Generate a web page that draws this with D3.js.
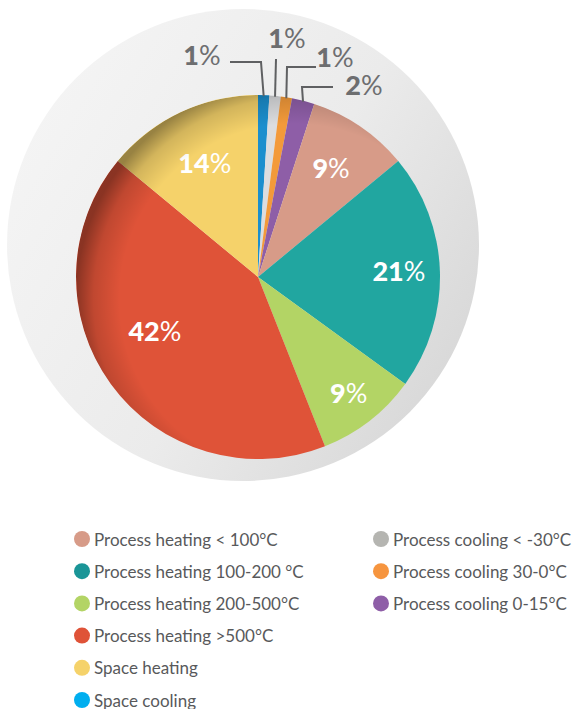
<!DOCTYPE html>
<html>
<head>
<meta charset="utf-8">
<script src="https://cdn.jsdelivr.net/npm/d3@7"></script>
<style>
  body { margin: 0; background: #fff; }
  svg { display: block; }
</style>
</head>
<body>
<div id="chart"></div>
<script>
// data
const categories = ["Space cooling", "Process cooling < -30°C", "Process cooling 30-0°C", "Process cooling 0-15°C",
    "Process heating < 100°C", "Process heating 100-200 °C", "Process heating 200-500°C", "Process heating >500°C", "Space heating"];
const shares = [1, 1, 1, 2, 9, 21, 9, 42, 14];
const sliceColors = ["#1b8fce", "#dcdddf", "#f39a3a", "#8e5ea7", "#d79b88", "#21a6a0", "#b3d465", "#df5338", "#f5d26a"];

// legend (two columns, in the order shown)
const legendLeft = ["Process heating < 100°C", "Process heating 100-200 °C", "Process heating 200-500°C", "Process heating >500°C", "Space heating", "Space cooling"];
const legendLeftColors = ["#d79b88", "#1a9597", "#b3d465", "#df5338", "#f5d26a", "#00aeef"];
const legendRight = ["Process cooling < -30°C", "Process cooling 30-0°C", "Process cooling 0-15°C"];
const legendRightColors = ["#b5b5b1", "#f6953f", "#8e5ea7"];

const width = 573, height = 709;
const cx = 258, cy = 277, radius = 182;

const svg = d3.select("#chart").append("svg")
    .attr("width", width)
    .attr("height", height);

const defs = svg.append("defs");

// backdrop disc gradient
const bg = defs.append("linearGradient").attr("id", "bgGrad")
    .attr("x1", "0%").attr("y1", "20%").attr("x2", "100%").attr("y2", "80%");
bg.append("stop").attr("offset", "0%").attr("stop-color", "#f5f5f5");
bg.append("stop").attr("offset", "55%").attr("stop-color", "#ebebeb");
bg.append("stop").attr("offset", "100%").attr("stop-color", "#d6d6d6");

// inner shadow on pie (darker on left)
const sh = defs.append("radialGradient").attr("id", "pieShadow")
    .attr("cx", "60%").attr("cy", "56%").attr("r", "60%");
sh.append("stop").attr("offset", "80%").attr("stop-color", "#000").attr("stop-opacity", 0);
sh.append("stop").attr("offset", "92%").attr("stop-color", "#000").attr("stop-opacity", 0.14);
sh.append("stop").attr("offset", "100%").attr("stop-color", "#000").attr("stop-opacity", 0.38);

const clip = defs.append("clipPath").attr("id", "pieClip");
clip.append("circle").attr("cx", cx).attr("cy", cy).attr("r", radius);

// backdrop
svg.append("circle")
    .attr("cx", 243).attr("cy", 245).attr("r", 236)
    .attr("fill", "url(#bgGrad)");

// pie
const pie = d3.pie().sort(null).value(d => d)(shares);
const arc = d3.arc().innerRadius(0).outerRadius(radius);

const g = svg.append("g").attr("transform", `translate(${cx},${cy})`);

g.selectAll("path.slice")
    .data(pie)
    .enter()
    .append("path")
    .attr("class", "slice")
    .attr("d", arc)
    .attr("fill", (d, i) => sliceColors[i]);

svg.append("circle")
    .attr("cx", cx).attr("cy", cy).attr("r", radius)
    .attr("fill", "url(#pieShadow)")
    .attr("clip-path", "url(#pieClip)");

// labels inside slices
const inner = [
    {i: 4, r: 130, dx: 0, dy: 0},
    {i: 5, r: 148, dx: -7, dy: 0},
    {i: 6, r: 148, dx: 0, dy: 0},
    {i: 7, r: 120, dx: -6, dy: -16},
    {i: 8, r: 125, dx: 0, dy: 0}
];
const labelArc = r => d3.arc().innerRadius(r).outerRadius(r);

inner.forEach(o => {
    let c = labelArc(o.r).centroid(pie[o.i]);
    let t = g.append("text")
        .attr("x", c[0] + o.dx)
        .attr("y", c[1] + 9 + o.dy)
        .attr("text-anchor", "middle")
        .attr("fill", "#fff")
        .style("font-family", "Lato, 'Open Sans', sans-serif")
        .style("font-size", "27px");
    t.append("tspan").style("font-weight", 900).text(shares[o.i]);
    t.append("tspan").style("font-weight", 400).text("%");
});

// outside labels with leader lines for small slices
const outer = [
    {i: 0, lx: 202, ly: 65, path: [[230, 62], [261, 62]]},
    {i: 1, lx: 287, ly: 48, path: [[276, 59]]},
    {i: 2, lx: 335, ly: 67, path: [[316, 67], [287, 67]]},
    {i: 3, lx: 364, ly: 95, path: [[333, 87], [302, 87]]}
];

outer.forEach(o => {
    let a = (pie[o.i].startAngle + pie[o.i].endAngle) / 2;
    let ex = cx + Math.sin(a) * (radius - 1);
    let ey = cy - Math.cos(a) * (radius - 1);
    let pts = o.path.concat([[ex, ey]]);
    svg.append("path")
        .attr("d", d3.line()(pts))
        .attr("fill", "none")
        .attr("stroke", "#5f6062")
        .attr("stroke-width", 2);
    let t = svg.append("text")
        .attr("x", o.lx).attr("y", o.ly)
        .attr("text-anchor", "middle")
        .attr("fill", "#6d6e70")
        .style("font-family", "Lato, 'Open Sans', sans-serif")
        .style("font-size", "27px");
    t.append("tspan").style("font-weight", 900).text(shares[o.i]);
    t.append("tspan").style("font-weight", 400).text("%");
});

// legend
function drawLegend(items, colors, x, y0) {
    let rows = svg.selectAll(null)
        .data(items)
        .enter()
        .append("g")
        .attr("transform", (d, i) => `translate(${x},${y0 + i * 32.2})`);
    rows.append("circle")
        .attr("r", 8)
        .attr("fill", (d, i) => colors[i]);
    rows.append("text")
        .attr("x", 12)
        .attr("y", 6.5)
        .attr("fill", "#58595b")
        .style("font-family", "Lato, 'Open Sans', sans-serif")
        .style("font-size", "17px")
        .text(d => d);
}
drawLegend(legendLeft, legendLeftColors, 82, 539);
drawLegend(legendRight, legendRightColors, 381, 539);
</script>
</body>
</html>
